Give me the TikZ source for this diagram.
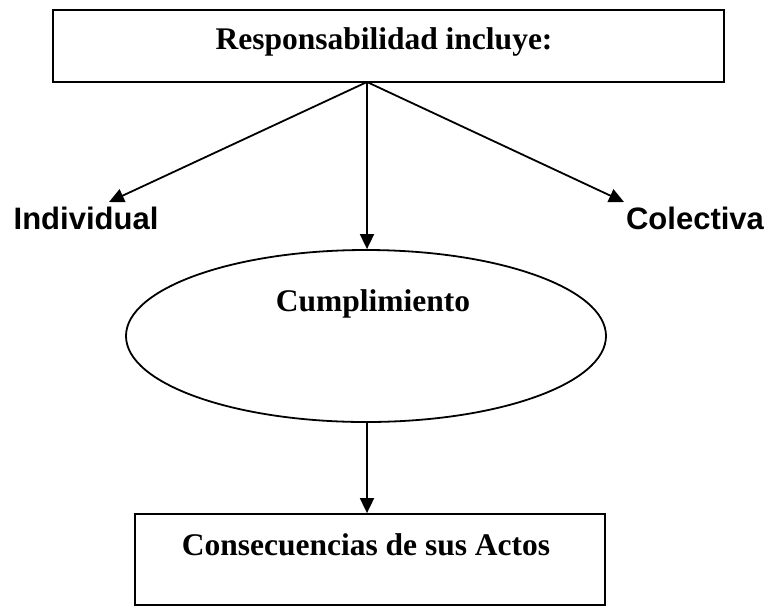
\documentclass[tikz,border=0pt]{standalone}
\usepackage{fontspec}
\setmainfont{Liberation Serif}
\newfontfamily\arialfont{Liberation Sans}
\usetikzlibrary{arrows.meta,shapes.geometric}
\begin{document}
\begin{tikzpicture}[x=1pt,y=-1pt,
  line width=1.8pt,
  box/.style={draw,rectangle,inner sep=0pt},
  serif/.style={font=\fontsize{31.5}{36}\selectfont\bfseries,anchor=base},
  sans/.style={font=\arialfont\fontsize{31}{36}\selectfont\bfseries,anchor=base},
  arr/.style={-{Triangle[length=15pt,width=14pt]}}]
\useasboundingbox (0,0) rectangle (770,606);
\node[box,minimum width=671pt,minimum height=72pt] (top) at (388.5,46) {};
\node[serif] (toptxt) at (384,49) {Responsabilidad incluye:};
\coordinate (src) at (367,82);
\node[sans] (ind) at (86,229) {Individual};
\node[sans] (col) at (695,229) {Colectiva};
\coordinate (indtip) at (109,202);
\coordinate (coltip) at (624,202);
\node[draw,ellipse,minimum width=480pt,minimum height=172pt,inner sep=0pt] (ell) at (366,336) {};
\node[serif] (cump) at (373,311) {Cumplimiento};
\node[box,minimum width=470pt,minimum height=91pt] (bot) at (370,559.5) {};
\node[serif] (bottxt) at (366,555) {Consecuencias de sus Actos};
\draw[arr] (src) -- (indtip);
\draw[arr] (src) -- (coltip);
\draw[arr] (src) -- (ell.north -| src);
\draw[arr] (ell.south -| src) -- (bot.north -| src);
\end{tikzpicture}
\end{document}
